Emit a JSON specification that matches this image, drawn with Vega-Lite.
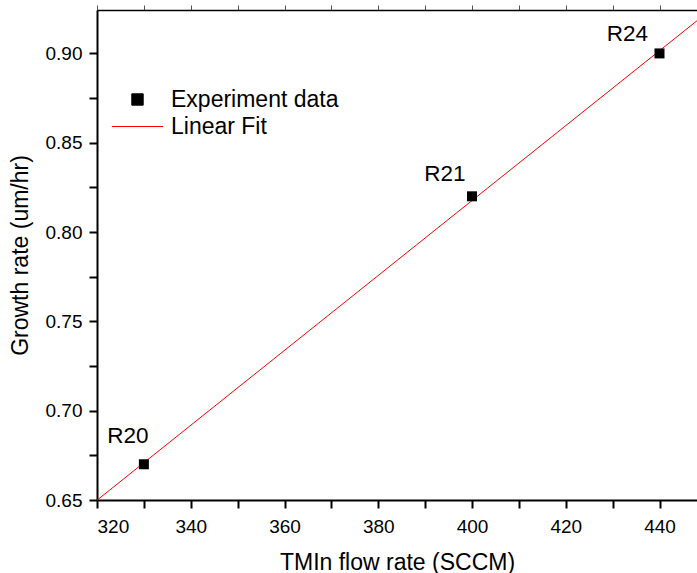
{
  "$schema": "https://vega.github.io/schema/vega-lite/v6.json",
  "autosize": "none",
  "width": 600,
  "height": 490,
  "padding": {"left": 97, "top": 10, "right": 0, "bottom": 73},
  "background": "white",
  "config": {
    "view": {"stroke": null},
    "font": "Liberation Sans",
    "axis": {
      "grid": false,
      "domainColor": "black",
      "domainWidth": 2,
      "tickColor": "black",
      "tickWidth": 2,
      "labelColor": "black",
      "labelFont": "Liberation Sans",
      "labelFontSize": 19,
      "titleColor": "black",
      "titleFont": "Liberation Sans",
      "titleFontSize": 23,
      "titleFontWeight": "normal"
    }
  },
  "data": {
    "values": [
      {"flow": 330, "rate": 0.67, "label": "R20"},
      {"flow": 400, "rate": 0.82, "label": "R21"},
      {"flow": 440, "rate": 0.90, "label": "R24"}
    ]
  },
  "resolve": {"axis": {"x": "independent", "y": "independent"}},
  "layer": [
    {
      "transform": [{"regression": "rate", "on": "flow", "extent": [320, 448]}],
      "mark": {"type": "line", "strokeWidth": 1, "clip": true},
      "encoding": {
        "x": {
          "field": "flow", "type": "quantitative",
          "scale": {"domain": [320, 448], "nice": false, "zero": false},
          "axis": {
            "orient": "top", "labels": false, "title": null, "domainWidth": 1.5,
            "values": [320, 330, 340, 350, 360, 370, 380, 390, 400, 410, 420, 430, 440],
            "tickWidth": 1, "tickColor": "#555",
            "encode": {"ticks": {"update": {"y2": {"value": 3}}}}
          }
        },
        "y": {
          "field": "rate", "type": "quantitative",
          "scale": {"domain": [0.65, 0.9243], "nice": false, "zero": false},
          "axis": null
        },
        "color": {
          "datum": "Linear Fit",
          "scale": {"domain": ["Experiment data", "Linear Fit"], "range": ["black", "#ff0000"]},
          "legend": {
            "orient": "none", "legendX": 29, "legendY": 78, "title": null, "padding": 0,
            "symbolSize": 130, "labelFontSize": 23, "labelFont": "Liberation Sans", "labelColor": "black",
            "labelOffset": 22, "rowPadding": 3, "labelLimit": 400,
            "encode": {"symbols": {"update": {
              "fill": {"scale": "color", "field": "value"},
              "stroke": {"scale": "color", "field": "value"},
              "strokeWidth": {"value": 1},
              "shape": {"scale": "shape", "field": "value"},
              "opacity": {"value": 1}
            }}}
          }
        }
      }
    },
    {
      "mark": {"type": "point", "filled": true, "size": 100, "opacity": 1},
      "encoding": {
        "x": {
          "field": "flow", "type": "quantitative",
          "title": "TMIn flow rate (SCCM)",
          "axis": {
            "orient": "bottom",
            "values": [320, 330, 340, 350, 360, 370, 380, 390, 400, 410, 420, 430, 440],
            "labelExpr": "datum.value % 20 === 0 ? datum.label : ''",
            "tickSize": 8, "labelPadding": 9, "titlePadding": 15,
            "encode": {"ticks": {"update": {"y2": {"signal": "datum.value % 20 === 0 ? 8 : 4"}}}}
          }
        },
        "y": {
          "field": "rate", "type": "quantitative",
          "title": "Growth rate (um/hr)",
          "axis": {
            "orient": "left",
            "values": [0.65, 0.675, 0.7, 0.725, 0.75, 0.775, 0.8, 0.825, 0.85, 0.875, 0.9],
            "labelExpr": "round(datum.value * 1000) % 50 === 0 ? format(datum.value, '.2f') : ''",
            "tickSize": 8, "labelPadding": 7, "titlePadding": 13,
            "encode": {"ticks": {"update": {"x2": {"signal": "round(datum.value * 1000) % 50 === 0 ? -8 : -4"}}}}
          }
        },
        "color": {
          "datum": "Experiment data",
          "scale": {"domain": ["Experiment data", "Linear Fit"], "range": ["black", "#ff0000"]},
          "legend": {
            "orient": "none", "legendX": 29, "legendY": 78, "title": null, "padding": 0,
            "symbolSize": 130, "labelFontSize": 23, "labelFont": "Liberation Sans", "labelColor": "black",
            "labelOffset": 22, "rowPadding": 3, "labelLimit": 400,
            "encode": {"symbols": {"update": {
              "fill": {"scale": "color", "field": "value"},
              "stroke": {"scale": "color", "field": "value"},
              "strokeWidth": {"value": 1},
              "shape": {"scale": "shape", "field": "value"},
              "opacity": {"value": 1}
            }}}
          }
        },
        "shape": {
          "datum": "Experiment data",
          "scale": {"domain": ["Experiment data", "Linear Fit"], "range": ["square", "M-4.5,0L4.5,0"]},
          "legend": {
            "orient": "none", "legendX": 29, "legendY": 78, "title": null, "padding": 0,
            "symbolSize": 130, "labelFontSize": 23, "labelFont": "Liberation Sans", "labelColor": "black",
            "labelOffset": 22, "rowPadding": 3, "labelLimit": 400,
            "encode": {"symbols": {"update": {
              "fill": {"scale": "color", "field": "value"},
              "stroke": {"scale": "color", "field": "value"},
              "strokeWidth": {"value": 1},
              "shape": {"scale": "shape", "field": "value"},
              "opacity": {"value": 1}
            }}}
          }
        }
      }
    },
    {
      "transform": [{"filter": "datum.label === 'R20'"}],
      "mark": {"type": "text", "fontSize": 22.5, "font": "Liberation Sans", "color": "black", "align": "center", "baseline": "alphabetic", "dx": -16, "dy": -21},
      "encoding": {
        "x": {"field": "flow", "type": "quantitative", "axis": null},
        "y": {"field": "rate", "type": "quantitative", "axis": null},
        "text": {"field": "label"}
      }
    },
    {
      "transform": [{"filter": "datum.label === 'R21'"}],
      "mark": {"type": "text", "fontSize": 22.5, "font": "Liberation Sans", "color": "black", "align": "center", "baseline": "alphabetic", "dx": -27, "dy": -15},
      "encoding": {
        "x": {"field": "flow", "type": "quantitative", "axis": null},
        "y": {"field": "rate", "type": "quantitative", "axis": null},
        "text": {"field": "label"}
      }
    },
    {
      "transform": [{"filter": "datum.label === 'R24'"}],
      "mark": {"type": "text", "fontSize": 22.5, "font": "Liberation Sans", "color": "black", "align": "center", "baseline": "alphabetic", "dx": -32, "dy": -12},
      "encoding": {
        "x": {"field": "flow", "type": "quantitative", "axis": null},
        "y": {"field": "rate", "type": "quantitative", "axis": null},
        "text": {"field": "label"}
      }
    }
  ]
}
